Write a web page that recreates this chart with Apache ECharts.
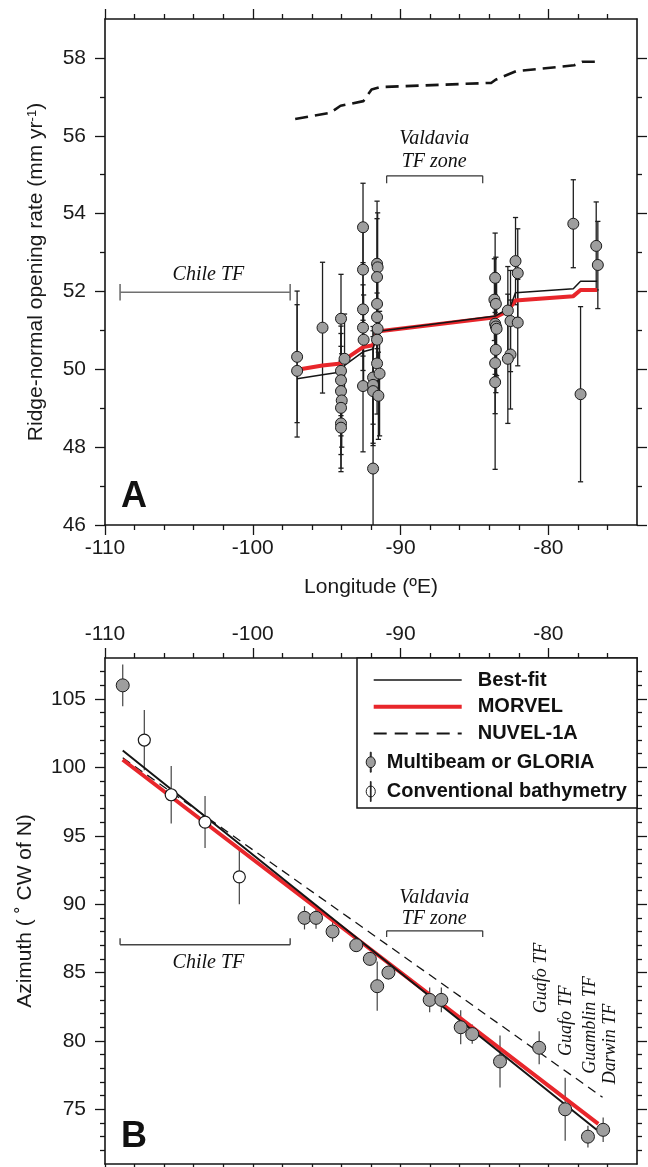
<!DOCTYPE html>
<html><head><meta charset="utf-8">
<script src="https://cdn.jsdelivr.net/npm/echarts@6/dist/echarts.min.js"></script>
<style>html,body{margin:0;padding:0;background:#fff}#c{width:648px;height:1167px}</style>
</head><body><div id="c"></div>
<script>
// ---------- Panel A: ridge-normal opening rate ----------
const lonA  = [-97.0,-97.0,-95.28,-94.03,-93.79,-94.03,-94.03,-94.03,-93.98,-94.03,-94.03,-94.03,
               -92.54,-92.54,-92.54,-92.54,-92.5,-92.54,-91.86,-91.86,-91.86,-91.86,
               -91.59,-91.55,-91.59,-91.59,-91.59,-91.55,-91.59,-91.59,-91.42,-91.5,
               -83.6,-83.65,-83.55,-83.6,-83.55,-83.5,-83.55,-83.6,-83.6,
               -82.74,-82.56,-82.56,-82.74,-82.22,-82.07,-82.07,-78.31,-77.82,-76.76,-76.65];
const rateA = [50.32,49.96,51.07,51.30,50.27,49.96,49.72,49.44,49.20,49.01,48.61,48.50,
               53.65,52.56,51.54,51.07,50.76,49.57,49.79,49.60,49.44,47.45,
               52.71,52.62,52.37,51.68,51.34,51.04,50.76,50.15,49.89,49.32,
               52.35,51.79,51.68,51.17,51.10,51.04,50.50,50.16,49.67,
               51.51,51.24,50.38,50.27,52.78,52.47,51.20,53.74,49.36,53.17,52.68];
const errA  = [1.69,1.70,1.68,1.14,1.15,1.15,1.20,1.15,1.20,1.20,1.15,1.13,
               1.13,1.15,1.20,1.10,1.15,1.69,1.20,1.50,1.40,2.00,
               1.61,1.40,1.50,1.15,1.20,1.30,1.20,1.30,1.60,1.12,
               1.15,1.05,1.20,1.30,1.30,1.20,1.10,1.30,2.24,
               1.13,1.30,1.40,1.66,1.12,1.14,1.11,1.13,2.25,1.13,1.12];
const bestLonA   = [-97.0,-95.28,-94.03,-93.79,-92.54,-91.86,-91.59,-83.58,-82.74,-82.56,-82.22,-78.31,-77.82,-76.7];
const bestRateA  = [49.76,49.86,49.93,50.10,50.45,50.52,50.97,51.37,51.55,51.62,51.97,52.07,52.26,52.26];
const morvLonA   = [-97.0,-95.28,-94.03,-93.79,-92.54,-91.86,-91.59,-83.58,-82.74,-82.22,-78.31,-77.82,-76.7];
const morvRateA  = [49.99,50.10,50.15,50.25,50.57,50.62,50.97,51.34,51.50,51.77,51.88,52.04,52.04];
const nuvLonA    = [-97.13,-94.76,-94.06,-92.52,-91.96,-91.40,-83.85,-83.57,-82.17,-78.25,-77.69,-76.71];
const nuvRateA   = [56.43,56.59,56.77,56.89,57.19,57.25,57.36,57.44,57.66,57.81,57.90,57.90];

// ---------- Panel B: azimuth ----------
const lonMB = [-108.8,-96.5,-95.72,-94.6,-93.0,-92.08,-91.58,-90.82,-88.03,-87.24,-85.93,-85.15,-83.27,-80.62,-78.86,-77.32,-76.29];
const azMB  = [106.0,89.0,89.0,88.0,87.0,86.0,84.0,85.0,83.0,83.0,81.0,80.5,78.5,79.5,75.0,73.0,73.5];
const errMB = [1.52,0.85,0.8,0.75,0.5,0.5,1.8,0.5,0.9,0.9,1.25,0.7,1.9,1.2,2.3,0.8,0.9];
const lonCB = [-107.34,-105.52,-103.23,-100.91];
const azCB  = [102.0,98.0,96.0,92.0];
const errCB = [2.2,2.1,1.9,2.0];
const bestLonB = [-108.8,-92.7,-76.73];  const bestAzB = [101.24,87.3,73.5];
const morvLonB = [-108.8,-92.7,-76.62];  const morvAzB = [100.56,87.25,73.93];
const nuvLonB  = [-108.8,-92.5,-76.33];  const nuvAzB  = [100.7,88.25,75.88];

// ---------- ticks ----------
const xMajor = [-110,-100,-90,-80];
const xMinor = [-108,-106,-104,-102,-98,-96,-94,-92,-88,-86,-84,-82,-78,-76];
const yMajorA = [46,48,50,52,54,56,58];
const yMinorA = [47,49,51,53,55,57];
const yMajorB = [75,80,85,90,95,100,105];
const yMinorB = [72,73,74,76,77,78,79,81,82,83,84,86,87,88,89,91,92,93,94,96,97,98,99,101,102,103,104,106,107];

// ---------- annotations ----------
const bracketsA = [[-108.98,-97.47,51.98,52.19,51.77],[-90.94,-84.44,54.97,54.97,54.78]];
const bracketsB = [[-108.98,-97.47,87.03,87.5,87.03],[-90.94,-84.44,88.05,88.05,87.6]];
const textA = [['Chile TF',-103.0,52.44],['Valdavia',-87.72,55.92],['TF zone',-87.72,55.32]];
const textB = [['Chile TF',-103.0,85.69],['Valdavia',-87.72,90.44],['TF zone',-87.72,88.9]];
const textBRot = [['Guafo TF',-80.45,84.6],['Guafo TF',-78.81,81.47],['Guamblin TF',-77.19,81.17],['Darwin TF',-75.83,79.78]];

const sans = '"Liberation Sans", Arial, Helvetica, sans-serif';
const serif = '"Liberation Serif", "Times New Roman", serif';
const INK = '#151515';
const RED = '#e8262b';
const GRAYFILL = '#9e9e9e';

function axisPair(kind, grid, pos, min, max, major, minor, showLabels, extra) {
  const common = {type:'value', gridIndex:grid, position:pos, min:min, max:max, splitLine:{show:false}, z:5, silent:true};
  const maj = Object.assign({}, common, {
    axisLine:{show:true, onZero:false, lineStyle:{color:INK, width:1.6}},
    axisTick:{show:true, inside:false, length:10, customValues:major, lineStyle:{color:INK, width:1.3}},
    axisLabel:{show:showLabels, customValues:major, margin:(kind==='x'?13:19), fontFamily:sans, fontSize:21, color:'#1a1a1a'}
  }, extra || {});
  const mnr = Object.assign({}, common, {
    axisLine:{show:false, onZero:false},
    axisTick:{show:true, inside:false, length:5, customValues:minor, lineStyle:{color:INK, width:1.3}},
    axisLabel:{show:false}
  });
  return [maj, mnr];
}

const xAxes = [].concat(
  axisPair('x',0,'bottom',-110,-74,xMajor,xMinor,true,{name:'Longitude (ºE)', nameLocation:'middle', nameGap:52,
    nameTextStyle:{fontFamily:sans, fontSize:21, color:'#1a1a1a'}}),
  axisPair('x',0,'top',-110,-74,xMajor,xMinor,false),
  axisPair('x',1,'top',-110,-74,xMajor,xMinor,true),
  axisPair('x',1,'bottom',-110,-74,xMajor,xMinor,false)
);
const yAxes = [].concat(
  axisPair('y',0,'left',46,59,yMajorA,yMinorA,true,{name:'Ridge-normal opening rate (mm yr{sup|-1})', nameLocation:'middle', nameGap:58, nameRotate:90,
    nameTextStyle:{fontFamily:sans, fontSize:21, color:'#1a1a1a', rich:{sup:{fontFamily:sans, fontSize:13, color:'#1a1a1a', verticalAlign:'top', padding:[0,0,8,0]}}}}),
  axisPair('y',0,'right',46,59,yMajorA,yMinorA,false),
  axisPair('y',1,'left',71,108,yMajorB,yMinorB,true,{name:'Azimuth ( ˚ CW of N)', nameLocation:'middle', nameGap:69, nameRotate:90,
    nameTextStyle:{fontFamily:sans, fontSize:21, color:'#1a1a1a'}}),
  axisPair('y',1,'right',71,108,yMajorB,yMinorB,false)
);

function zip(a,b){ return a.map((v,i)=>[v,b[i]]); }

function errBars(xi, yi, lon, val, err, cap, color, width) {
  return {type:'custom', xAxisIndex:xi, yAxisIndex:yi, silent:true, clip:true, z:2,
    data: lon.map((x,i)=>[x, val[i]-err[i], val[i]+err[i]]),
    renderItem: function(params, api){
      const x = api.value(0);
      const lo = api.coord([x, api.value(1)]);
      const hi = api.coord([x, api.value(2)]);
      const st = {stroke:color, lineWidth:width};
      const ch = [{type:'line', shape:{x1:lo[0],y1:lo[1],x2:hi[0],y2:hi[1]}, style:st}];
      if (cap > 0) {
        ch.push({type:'line', shape:{x1:lo[0]-cap,y1:lo[1],x2:lo[0]+cap,y2:lo[1]}, style:st});
        ch.push({type:'line', shape:{x1:hi[0]-cap,y1:hi[1],x2:hi[0]+cap,y2:hi[1]}, style:st});
      }
      return {type:'group', children:ch};
    }};
}
function brackets(xi, yi, data, color, width) {
  return {type:'custom', xAxisIndex:xi, yAxisIndex:yi, silent:true, z:2, data:data,
    renderItem: function(params, api){
      const x1=api.value(0), x2=api.value(1), y=api.value(2), ya=api.value(3), yb=api.value(4);
      const p1=api.coord([x1,y]), p2=api.coord([x2,y]);
      const a1=api.coord([x1,ya]), b1=api.coord([x1,yb]);
      const a2=api.coord([x2,ya]), b2=api.coord([x2,yb]);
      const st={stroke:color, lineWidth:width};
      return {type:'group', children:[
        {type:'line', shape:{x1:p1[0],y1:p1[1],x2:p2[0],y2:p2[1]}, style:st},
        {type:'line', shape:{x1:a1[0],y1:a1[1],x2:b1[0],y2:b1[1]}, style:st},
        {type:'line', shape:{x1:a2[0],y1:a2[1],x2:b2[0],y2:b2[1]}, style:st}
      ]};
    }};
}
function texts(xi, yi, list, rot, size) {
  return {type:'custom', xAxisIndex:xi, yAxisIndex:yi, silent:true, z:6,
    data: list.map(t=>[t[1],t[2]]),
    renderItem: function(params, api){
      const p = api.coord([api.value(0), api.value(1)]);
      return {type:'text', x:p[0], y:p[1], rotation: rot*Math.PI/180,
        style:{text:list[params.dataIndex][0], fill:'#111', align:'center', verticalAlign:'middle',
               font:'italic '+size+'px '+serif}};
    }};
}

const markerFilled = 'path://M4.5,0 L5.5,0 L5.5,5 L4.5,5 Z M0,11 A5,6 0 1,0 10,11 A5,6 0 1,0 0,11 Z M4.5,17 L5.5,17 L5.5,22 L4.5,22 Z';
const markerOpen = 'path://M0,11 A5,6 0 1,0 10,11 A5,6 0 1,0 0,11 Z M4.6,0 L5.4,0 L5.4,22 L4.6,22 Z';

const series = [
  // Panel A
  errBars(0,0,lonA,rateA,errA,2.6,'#1e1e1e',1.3),
  brackets(0,0,[bracketsA[0]],'#707070',1.6),
  brackets(0,0,[bracketsA[1]],'#333',1.2),
  {type:'line', name:'NUVEL-1A (A)', xAxisIndex:0, yAxisIndex:0, z:3, symbol:'none', silent:true,
   data: zip(nuvLonA,nuvRateA), lineStyle:{color:INK, width:2.6, type:[13,7]}},
  {type:'line', name:'MORVEL (A)', xAxisIndex:0, yAxisIndex:0, z:3, symbol:'none', silent:true,
   data: zip(morvLonA,morvRateA), lineStyle:{color:RED, width:4}},
  {type:'line', name:'Best-fit (A)', xAxisIndex:0, yAxisIndex:0, z:3, symbol:'none', silent:true,
   data: zip(bestLonA,bestRateA), lineStyle:{color:INK, width:1.5}},
  {type:'scatter', name:'Data (A)', xAxisIndex:0, yAxisIndex:0, z:4, symbol:'circle', symbolSize:11, silent:true,
   data: zip(lonA,rateA), itemStyle:{color:GRAYFILL, borderColor:'#1a1a1a', borderWidth:1, opacity:1}},
  texts(0,0,textA,0,20),

  // Panel B
  errBars(4,4,lonMB,azMB,errMB,0,'#444',1.2),
  errBars(4,4,lonCB,azCB,errCB,0,'#444',1.2),
  brackets(4,4,[bracketsB[0]],'#444',1.4),
  brackets(4,4,[bracketsB[1]],'#333',1.2),
  {type:'line', name:'NUVEL-1A', xAxisIndex:4, yAxisIndex:4, z:3, symbol:'none', silent:true,
   data: zip(nuvLonB,nuvAzB), lineStyle:{color:INK, width:1.3, type:[9,6]}},
  {type:'line', name:'MORVEL', xAxisIndex:4, yAxisIndex:4, z:3, symbol:'none', silent:true,
   data: zip(morvLonB,morvAzB), lineStyle:{color:RED, width:4}},
  {type:'line', name:'Best-fit', xAxisIndex:4, yAxisIndex:4, z:3, symbol:'none', silent:true,
   data: zip(bestLonB,bestAzB), lineStyle:{color:INK, width:2}},
  {type:'scatter', name:'Multibeam or GLORIA', xAxisIndex:4, yAxisIndex:4, z:4, symbol:'circle', symbolSize:13, silent:true,
   data: zip(lonMB,azMB), itemStyle:{color:GRAYFILL, borderColor:'#1a1a1a', borderWidth:1, opacity:1}},
  {type:'scatter', name:'Conventional bathymetry', xAxisIndex:4, yAxisIndex:4, z:4, symbol:'circle', symbolSize:12, silent:true,
   data: zip(lonCB,azCB), itemStyle:{color:'#fff', borderColor:'#1a1a1a', borderWidth:1.2, opacity:1}},
  texts(4,4,textB,0,20),
  texts(4,4,textBRot,90,18)
];

const chart = echarts.init(document.getElementById('c'), null, {renderer:'canvas'});
chart.setOption({
  animation:false,
  backgroundColor:'#fff',
  grid:[
    {left:105, top:19, width:532, height:506, containLabel:false, outerBoundsMode:'none'},
    {left:105, top:658, width:532, height:506, containLabel:false, outerBoundsMode:'none'}
  ],
  xAxis:xAxes,
  yAxis:yAxes,
  legend:[
    {orient:'vertical', left:366.7, top:665, itemWidth:88, itemHeight:14, itemGap:6.7, selectedMode:false, z:10,
     itemStyle:{color:'rgba(0,0,0,0)', borderWidth:0},
     textStyle:{fontFamily:sans, fontWeight:'bold', fontSize:20, color:'#111', padding:[0,0,0,11]},
     data:[{name:'Best-fit', lineStyle:{color:INK, width:1.5, type:'solid'}},
           {name:'MORVEL', lineStyle:{color:RED, width:4, type:'solid'}},
           {name:'NUVEL-1A', lineStyle:{color:INK, width:2, type:[13,8]}}]},
    {orient:'vertical', left:360.7, top:746.7, itemWidth:10, itemHeight:20, itemGap:8.3, selectedMode:false, z:10,
     textStyle:{fontFamily:sans, fontWeight:'bold', fontSize:20, color:'#111', padding:[0,0,0,6]},
     data:[{name:'Multibeam or GLORIA', icon:markerFilled, itemStyle:{color:GRAYFILL, borderColor:'#1a1a1a', borderWidth:1}},
           {name:'Conventional bathymetry', icon:markerOpen, itemStyle:{color:'#fff', borderColor:'#1a1a1a', borderWidth:1}}]}
  ],
  graphic:[
    {type:'rect', z:8, silent:true, shape:{x:357, y:658, width:280, height:150}, style:{fill:'#fff', stroke:INK, lineWidth:1.5}},
    {type:'text', z:8, silent:true, x:121, y:497, style:{text:'A', font:'bold 36px "Liberation Sans", Arial, sans-serif', fill:'#111', verticalAlign:'middle', align:'left'}},
    {type:'text', z:8, silent:true, x:121, y:1137, style:{text:'B', font:'bold 36px "Liberation Sans", Arial, sans-serif', fill:'#111', verticalAlign:'middle', align:'left'}}
  ],
  series:series
});
</script>
</body></html>
